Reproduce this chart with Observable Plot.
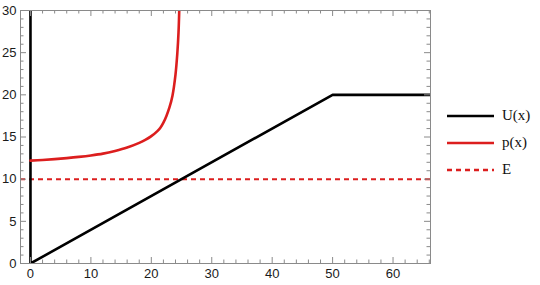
<!DOCTYPE html>
<html><head><meta charset="utf-8">
<script src="https://cdn.jsdelivr.net/npm/d3@7"></script>
<script src="https://cdn.jsdelivr.net/npm/@observablehq/plot@0.6"></script>
<style>
body{margin:0;background:#fff}
#wrap{position:relative;width:540px;height:285px}
#legend{position:absolute;left:446px;top:102px;font-family:"Liberation Serif","DejaVu Serif",serif;font-size:15px;color:#111}
#legend .row{display:flex;align-items:center;height:27px}
#legend svg{margin-right:8px}
</style>
</head><body><div id="wrap"><div id="legend"></div></div>
<script>
// U(x): infinite wall at x=0, linear ramp to 50, flat after
const uX = [0, 0, 50, 67];
const uY = [30, 0, 20, 20];
// p(x)
const pX = [0, 2, 4, 6, 8, 10, 12, 14, 16, 18, 19, 20, 21, 21.5, 22, 22.5, 23, 23.5, 24, 24.3, 24.5, 24.62];
const pY = [12.2, 12.28, 12.38, 12.5, 12.64, 12.81, 13.03, 13.35, 13.75, 14.3, 14.65, 15.1, 15.7, 16.1, 16.7, 17.5, 18.5, 19.9, 22.4, 24.9, 27.4, 30];
const energy = 10;
const xMajor = [0, 10, 20, 30, 40, 50, 60];
const yMajor = [0, 5, 10, 15, 20, 25, 30];
const xMinor = d3.range(0, 66.1, 2).filter(v => v % 10 !== 0);
const yMinor = d3.range(0, 30.1, 1).filter(v => v % 5 !== 0);
const legendLabels = ["U(x)", "p(x)", "E"];
const legendColors = ["#000000", "#dc1e1e", "#dc1e1e"];
const legendDash = [null, null, "5,4"];

const W = 540, H = 285, mL = 20, mR = 110, mT = 10, mB = 22;
const pw = W - mL - mR, ph = H - mT - mB;
const frameColor = "#8a8a8a";
const uData = uX.map((x, i) => ({x, y: uY[i]}));
const pData = pX.map((x, i) => ({x, y: pY[i]}));

const major = 6, minor = 3.5;
const chart = Plot.plot({
  width: W, height: H,
  marginLeft: mL, marginRight: mR, marginTop: mT, marginBottom: mB,
  x: {domain: [-1.65, 66.2], axis: null, label: null},
  y: {domain: [0, 30], axis: null, label: null},
  style: {fontFamily: "'Liberation Sans', Arial, sans-serif", fontSize: "13px", color: "#1a1a1a", background: "#fff"},
  marks: [
    Plot.ruleY([energy], {stroke: "#dc1e1e", strokeWidth: 2, strokeDasharray: "5,4"}),
    Plot.line(uData, {x: "x", y: "y", stroke: "#000", strokeWidth: 2.6, clip: true}),
    Plot.line(pData, {x: "x", y: "y", stroke: "#dc1e1e", strokeWidth: 2.6, curve: "catmull-rom", clip: true}),
    // ticks (inward) on all four sides
    Plot.ruleX(xMajor, {stroke: frameColor, insetTop: ph - major}),
    Plot.ruleX(xMajor, {stroke: frameColor, insetBottom: ph - major}),
    Plot.ruleX(xMinor, {stroke: frameColor, insetTop: ph - minor}),
    Plot.ruleX(xMinor, {stroke: frameColor, insetBottom: ph - minor}),
    Plot.ruleY(yMajor, {stroke: frameColor, insetRight: pw - major}),
    Plot.ruleY(yMajor, {stroke: frameColor, insetLeft: pw - major}),
    Plot.ruleY(yMinor, {stroke: frameColor, insetRight: pw - minor}),
    Plot.ruleY(yMinor, {stroke: frameColor, insetLeft: pw - minor}),
    Plot.frame({stroke: frameColor}),
    Plot.axisX(xMajor, {anchor: "bottom", tickSize: 0, tickPadding: 5, fontSize: 13, label: null}),
    Plot.axisY(yMajor, {anchor: "left", tickSize: 0, tickPadding: 4, fontSize: 13, label: null})
  ]
});
document.getElementById("wrap").prepend(chart);

const leg = document.getElementById("legend");
legendLabels.forEach((lab, i) => {
  const row = document.createElement("div");
  row.className = "row";
  row.innerHTML = `<svg width="48" height="6"><line x1="1" x2="48" y1="3" y2="3" stroke="${legendColors[i]}" stroke-width="2.6" ${legendDash[i] ? `stroke-dasharray="${legendDash[i]}"` : ""}/></svg><span>${lab}</span>`;
  leg.appendChild(row);
});
</script>
</body></html>
